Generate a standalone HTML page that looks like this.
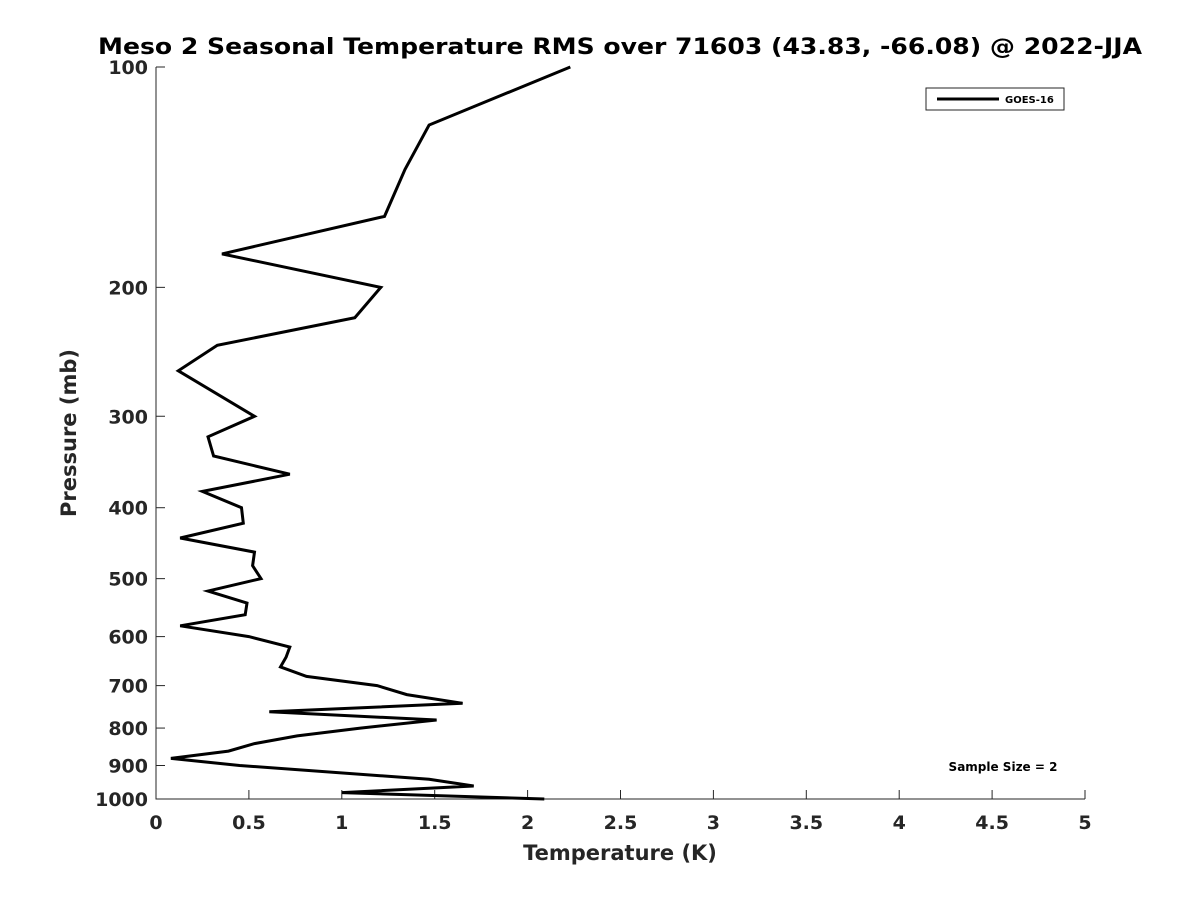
<!DOCTYPE html>
<html><head><meta charset="utf-8"><style>
body{margin:0;background:#fff;}
svg{font-family:"DejaVu Sans","Liberation Sans",sans-serif;}
</style></head><body>
<svg width="1200" height="900" id="c">
<text x="620" y="54" text-anchor="middle" font-size="22" font-weight="bold" fill="#000" textLength="1044" lengthAdjust="spacingAndGlyphs">Meso 2 Seasonal Temperature RMS over 71603 (43.83, -66.08) @ 2022-JJA</text>
<g id="axes"></g>
<text x="620" y="860" text-anchor="middle" font-size="21" font-weight="bold" fill="#262626">Temperature (K)</text>
<text transform="translate(76,433) rotate(-90)" text-anchor="middle" font-size="21" font-weight="bold" fill="#262626">Pressure (mb)</text>
<g>
<rect x="926" y="88" width="138" height="22" fill="#fff" stroke="#262626" stroke-width="1"/>
<line x1="937" y1="99" x2="999" y2="99" stroke="#000" stroke-width="3"/>
<text x="1005" y="103" font-size="10" font-weight="bold">GOES-16</text>
</g>
<text x="1003" y="771" text-anchor="middle" font-size="12" font-weight="bold">Sample Size = 2</text>
</svg>
<script>
const pressures=[100,120,138,160,180,200,220,240,260,300,320,340,360,380,400,420,440,460,480,500,520,540,560,580,600,620,640,660,680,700,720,740,760,780,800,820,840,860,880,900,940,960,980,1000];
const temps=[2.23,1.47,1.34,1.23,0.355,1.21,1.07,0.33,0.12,0.53,0.28,0.31,0.72,0.25,0.46,0.47,0.13,0.53,0.52,0.565,0.28,0.49,0.48,0.13,0.5,0.72,0.7,0.67,0.81,1.19,1.35,1.65,0.61,1.51,1.1,0.76,0.53,0.39,0.08,0.45,1.47,1.71,1.0,2.09];
const xTicks=[0,0.5,1,1.5,2,2.5,3,3.5,4,4.5,5];
const xTickLabels=["0","0.5","1","1.5","2","2.5","3","3.5","4","4.5","5"];
const yTicks=[100,200,300,400,500,600,700,800,900,1000];
const yTickLabels=["100","200","300","400","500","600","700","800","900","1000"];
const X0=156,X1=1085,Y0=67,Y1=799;
function xs(v){return X0+(v-0)/(5-0)*(X1-X0);}
function ys(p){return Y0+Math.log10(p/100)/Math.log10(10)*(Y1-Y0);}
const NS="http://www.w3.org/2000/svg";
const svg=document.getElementById('c');
const g=document.getElementById('axes');
function mk(t,a){const e=document.createElementNS(NS,t);for(const k in a)e.setAttribute(k,a[k]);return e;}
let ax=mk('path',{d:`M${X0},${Y0}V${Y1}H${X1}`,fill:'none',stroke:'#262626','stroke-width':1});


g.appendChild(ax);
xTicks.forEach((v,i)=>{
 const x=xs(v);
 const t=mk('line',{x1:x,y1:Y1,x2:x,y2:Y1-9,stroke:'#262626'});
 
 
 g.appendChild(t);
 const l=mk('text',{x:x,y:Y1+30,'text-anchor':'middle','font-size':19,'font-weight':'bold',fill:'#262626'});
 l.textContent=xTickLabels[i];
 
 
 g.appendChild(l);
});
yTicks.forEach((v,i)=>{
 const y=ys(v);
 const t=mk('line',{x1:X0,y1:y,x2:X0+9,y2:y,stroke:'#262626'});
 
 
 g.appendChild(t);
 const l=mk('text',{x:X0-8,y:y+7,'text-anchor':'end','font-size':19,'font-weight':'bold',fill:'#262626'});
 l.textContent=yTickLabels[i];
 
 
 g.appendChild(l);
});
const pts=pressures.map((p,i)=>xs(temps[i]).toFixed(1)+','+ys(p).toFixed(1)).join(' ');
const line=mk('polyline',{points:pts,fill:'none',stroke:'#000','stroke-width':3,'stroke-linejoin':'miter'});


svg.appendChild(line);
</script>
</body></html>
